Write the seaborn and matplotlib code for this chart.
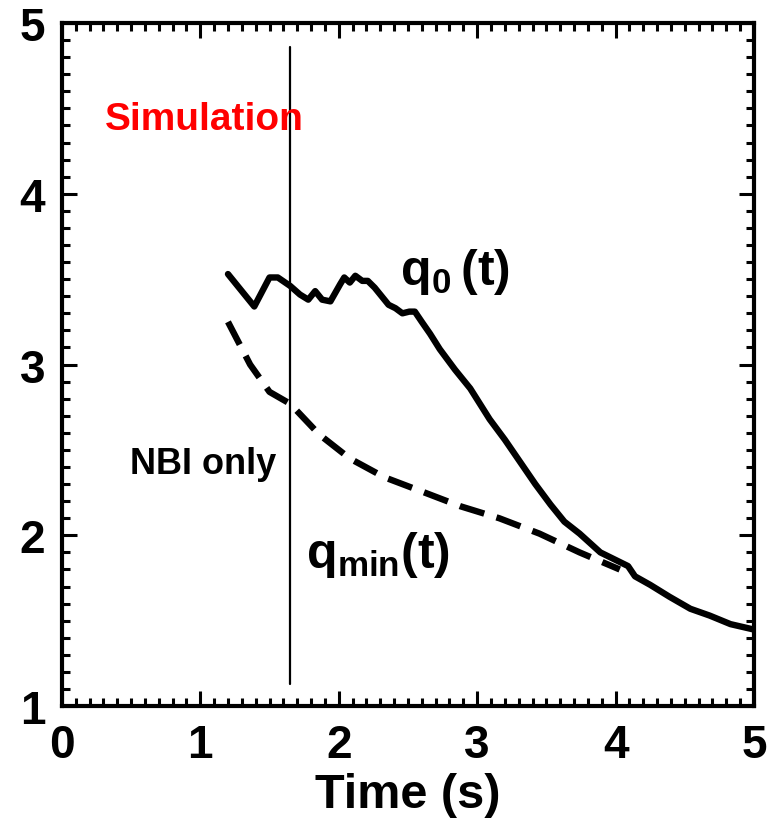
import matplotlib
matplotlib.use("Agg")
import matplotlib.pyplot as plt
from matplotlib import font_manager
from matplotlib.ticker import MultipleLocator
import seaborn as sns
import pandas as pd

# ---- data ----
t_q0 = [1.20, 1.39, 1.50, 1.56, 1.65, 1.72, 1.78, 1.83, 1.88, 1.94, 2.01, 2.04, 2.08,
        2.12, 2.17, 2.21, 2.26, 2.30, 2.36, 2.41, 2.46, 2.51, 2.55, 2.60, 2.66, 2.73,
        2.84, 2.95, 3.09, 3.20, 3.31, 3.42, 3.53, 3.63, 3.74, 3.89, 3.99, 4.09, 4.14,
        4.25, 4.39, 4.54, 4.68, 4.83, 4.99]
q0 = [3.53, 3.34, 3.51, 3.51, 3.46, 3.41, 3.38, 3.43, 3.38, 3.37, 3.47, 3.51, 3.48,
      3.52, 3.49, 3.49, 3.45, 3.41, 3.35, 3.33, 3.30, 3.31, 3.31, 3.25, 3.18, 3.09,
      2.97, 2.86, 2.68, 2.56, 2.43, 2.30, 2.18, 2.08, 2.01, 1.90, 1.86, 1.82, 1.76,
      1.71, 1.64, 1.57, 1.53, 1.48, 1.45]
t_qmin = [1.20, 1.36, 1.50, 1.65, 1.86, 2.08, 2.33, 2.59, 2.88, 3.16, 3.45, 3.74, 4.03]
qmin = [3.25, 3.00, 2.84, 2.77, 2.59, 2.45, 2.34, 2.26, 2.17, 2.10, 2.01, 1.90, 1.80]
nbi_time = 1.65
nbi_span = [1.13, 4.86]
x_ticks = [0, 1, 2, 3, 4, 5]
y_ticks = [1, 2, 3, 4, 5]

sns.set_style("ticks")

def has_font(name):
    try:
        font_manager.findfont(font_manager.FontProperties(family=name), fallback_to_default=False)
        return True
    except Exception:
        return False

fam = "Liberation Sans Narrow" if has_font("Liberation Sans Narrow") else "Liberation Sans"
plt.rcParams["font.family"] = [fam, "DejaVu Sans"]
plt.rcParams["font.weight"] = "bold"
plt.rcParams["text.color"] = "black"
plt.rcParams["xtick.color"] = "black"
plt.rcParams["ytick.color"] = "black"
plt.rcParams["axes.labelcolor"] = "black"
plt.rcParams["mathtext.fontset"] = "custom"
plt.rcParams["mathtext.bf"] = f"{fam}:bold"
plt.rcParams["mathtext.rm"] = f"{fam}:bold"

fig = plt.figure(figsize=(7.83, 8.28), dpi=100)
ax = fig.add_axes([0.079, 0.146, 0.884, 0.825])

df0 = pd.DataFrame({"t": t_q0, "q": q0})
df1 = pd.DataFrame({"t": t_qmin, "q": qmin})
sns.lineplot(data=df0, x="t", y="q", ax=ax, color="black", linewidth=4.6, sort=False)
sns.lineplot(data=df1, x="t", y="q", ax=ax, color="black", linewidth=4.6, sort=False,
             dashes=False, linestyle=(0, (4.0, 2.0)))
ax.plot([nbi_time, nbi_time], nbi_span, color="black", lw=1.6)

ax.set_xlim(0, 5)
ax.set_ylim(1, 5)
ax.set_xticks(x_ticks)
ax.set_yticks(y_ticks)
ax.xaxis.set_minor_locator(MultipleLocator(0.1))
ax.yaxis.set_minor_locator(MultipleLocator(0.1))
ax.tick_params(which="both", direction="in", top=True, right=True, width=2.2,
               color="black", labelcolor="black")
ax.tick_params(which="major", length=11)
ax.tick_params(which="minor", length=6)
ax.tick_params(axis="x", which="major", labelsize=33, pad=12)
ax.tick_params(axis="y", which="major", labelsize=33, pad=12)
for lab in ax.get_xticklabels() + ax.get_yticklabels():
    lab.set_fontweight("bold")
for s in ax.spines.values():
    s.set_linewidth(3)
    s.set_color("black")

ax.set_xlabel("Time (s)", fontsize=35, fontweight="bold", labelpad=4, color="black")
ax.set_ylabel("")

ax.text(0.31, 4.44, "Simulation", color="red", fontsize=28, fontweight="bold", va="center", ha="left")
ax.text(0.49, 2.42, "NBI only", color="black", fontsize=26, fontweight="bold", va="center", ha="left")

ax.text(2.44, 3.55, r"$\mathbf{q_0\,(t)}$", fontsize=36, va="center", ha="left", color="black")
ax.text(1.76, 1.89, r"$\mathbf{q_{min}(t)}$", fontsize=36, va="center", ha="left", color="black")

fig.savefig("out.png", dpi=100)
